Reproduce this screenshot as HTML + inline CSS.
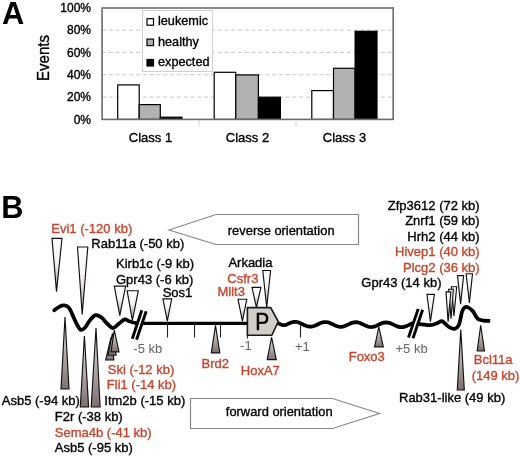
<!DOCTYPE html>
<html><head><meta charset="utf-8"><style>
html,body{margin:0;padding:0;background:#fff;}
svg{display:block;will-change:transform;filter:blur(0.35px);font-family:"Liberation Sans", sans-serif;}
</style></head><body>
<svg width="520" height="457" viewBox="0 0 520 457">
<defs>
<linearGradient id="gd" x1="0" y1="0" x2="0" y2="1"><stop offset="0" stop-color="#ffffff"/><stop offset="0.45" stop-color="#f5f2f2"/><stop offset="1" stop-color="#a49c9c"/></linearGradient>
<linearGradient id="gu" x1="0" y1="0" x2="0" y2="1"><stop offset="0" stop-color="#f2eaea"/><stop offset="1" stop-color="#7b6e6e"/></linearGradient>
</defs>
<rect width="520" height="457" fill="#fff"/>
<text x="1.9" y="23.7" font-size="30.8" fill="#000" stroke="#000" stroke-width="0" text-anchor="start" font-weight="bold">A</text>
<line x1="102" y1="97.1" x2="393" y2="97.1" stroke="#c8c8c8" stroke-width="1" stroke-dasharray="4,2.8"/>
<line x1="102" y1="74.8" x2="393" y2="74.8" stroke="#c8c8c8" stroke-width="1" stroke-dasharray="4,2.8"/>
<line x1="102" y1="52.4" x2="393" y2="52.4" stroke="#c8c8c8" stroke-width="1" stroke-dasharray="4,2.8"/>
<line x1="102" y1="30.1" x2="393" y2="30.1" stroke="#c8c8c8" stroke-width="1" stroke-dasharray="4,2.8"/>
<text x="91" y="123.7" font-size="12" fill="#000" stroke="#000" stroke-width="0.35" text-anchor="end" >0%</text>
<text x="91" y="101.38000000000001" font-size="12" fill="#000" stroke="#000" stroke-width="0.35" text-anchor="end" >20%</text>
<text x="91" y="79.06" font-size="12" fill="#000" stroke="#000" stroke-width="0.35" text-anchor="end" >40%</text>
<text x="91" y="56.739999999999995" font-size="12" fill="#000" stroke="#000" stroke-width="0.35" text-anchor="end" >60%</text>
<text x="91" y="34.42" font-size="12" fill="#000" stroke="#000" stroke-width="0.35" text-anchor="end" >80%</text>
<text x="91" y="12.099999999999998" font-size="12" fill="#000" stroke="#000" stroke-width="0.35" text-anchor="end" >100%</text>
<text x="0" y="0" font-size="16" fill="#000" stroke="#000" stroke-width="0.35" text-anchor="middle" transform="translate(48.7,58) rotate(-90) scale(0.94,1)">Events</text>
<rect x="117.7" y="84.9" width="21.5" height="34.5" fill="#fff" stroke="#000" stroke-width="1.2"/>
<rect x="139.2" y="104.6" width="21.1" height="14.8" fill="#b2b2b2" stroke="#000" stroke-width="1.2"/>
<rect x="160.3" y="117.2" width="21.7" height="2.2" fill="#000" stroke="#000" stroke-width="1.2"/>
<rect x="214.2" y="72.3" width="21.6" height="47.1" fill="#fff" stroke="#000" stroke-width="1.2"/>
<rect x="235.8" y="74.9" width="22.6" height="44.5" fill="#b2b2b2" stroke="#000" stroke-width="1.2"/>
<rect x="258.4" y="97.2" width="22.0" height="22.2" fill="#000" stroke="#000" stroke-width="1.2"/>
<rect x="311.8" y="90.6" width="21.7" height="28.8" fill="#fff" stroke="#000" stroke-width="1.2"/>
<rect x="333.5" y="68.3" width="21.6" height="51.1" fill="#b2b2b2" stroke="#000" stroke-width="1.2"/>
<rect x="355.1" y="31.3" width="21.9" height="88.1" fill="#000" stroke="#000" stroke-width="1.2"/>
<rect x="102.1" y="8" width="291.1" height="111.4" fill="none" stroke="#6c6c6c" stroke-width="1.6"/>
<line x1="199" y1="120" x2="199" y2="126.5" stroke="#d4d4d4" stroke-width="1"/>
<line x1="296" y1="120" x2="296" y2="126.5" stroke="#d4d4d4" stroke-width="1"/>
<rect x="142.5" y="10.5" width="70" height="61" fill="#fff" stroke="#d0d0d0" stroke-width="1"/>
<rect x="147" y="18.7" width="6.5" height="6.5" fill="#fff" stroke="#000" stroke-width="1.2"/>
<text x="158" y="25.1" font-size="12.7" fill="#000" stroke="#000" stroke-width="0.35" text-anchor="start" >leukemic</text>
<rect x="147" y="39.099999999999994" width="6.5" height="6.5" fill="#b0b0b0" stroke="#000" stroke-width="1.2"/>
<text x="158" y="45.5" font-size="12.7" fill="#000" stroke="#000" stroke-width="0.35" text-anchor="start" >healthy</text>
<rect x="147" y="59.5" width="6.5" height="6.5" fill="#000" stroke="#000" stroke-width="1.2"/>
<text x="158" y="65.9" font-size="12.7" fill="#000" stroke="#000" stroke-width="0.35" text-anchor="start" >expected</text>
<text x="150.5" y="142" font-size="13" fill="#000" stroke="#000" stroke-width="0.35" text-anchor="middle" >Class 1</text>
<text x="247.5" y="142" font-size="13" fill="#000" stroke="#000" stroke-width="0.35" text-anchor="middle" >Class 2</text>
<text x="344.5" y="142" font-size="13" fill="#000" stroke="#000" stroke-width="0.35" text-anchor="middle" >Class 3</text>
<text x="1.2" y="218.2" font-size="30.8" fill="#000" stroke="#000" stroke-width="0" text-anchor="start" font-weight="bold">B</text>
<polygon points="169,230 216,214.5 358.5,214.5 358.5,244.5 216,244.5" fill="#fff" stroke="#888" stroke-width="1.2"/>
<text x="281.2" y="234.6" font-size="12.9" fill="#000" stroke="#000" stroke-width="0.35" text-anchor="middle" >reverse orientation</text>
<polygon points="190.5,398.5 332.5,398.5 379.5,413.5 332.5,428.5 190.5,428.5" fill="#fff" stroke="#888" stroke-width="1.2"/>
<text x="279.2" y="416.4" font-size="12.9" fill="#000" stroke="#000" stroke-width="0.35" text-anchor="middle" >forward orientation</text>
<path d="M54.25,310.30 C55.12,309.68 57.83,307.42 59.50,306.60 C61.17,305.78 62.77,305.25 64.30,305.40 C65.83,305.55 67.42,306.13 68.70,307.50 C69.98,308.87 70.80,311.13 72.00,313.60 C73.20,316.07 74.50,319.63 75.90,322.30 C77.30,324.97 78.93,328.65 80.40,329.60 C81.87,330.55 83.22,329.42 84.70,328.00 C86.18,326.58 87.72,323.13 89.30,321.10 C90.88,319.07 93.00,316.80 94.20,315.80 C95.40,314.80 95.28,314.82 96.50,315.10 C97.72,315.38 99.70,316.06 101.50,317.50 C103.30,318.94 105.37,321.98 107.30,323.75 C109.23,325.52 111.18,328.10 113.10,328.10 C115.02,328.10 116.88,325.20 118.80,323.75 C120.72,322.30 122.98,319.88 124.60,319.40 C126.22,318.92 127.22,320.42 128.50,320.90 C129.78,321.38 130.87,321.93 132.30,322.30 C133.73,322.67 135.48,322.92 137.10,323.10 C138.72,323.28 141.18,323.35 142.00,323.40" fill="none" stroke="#000" stroke-width="3.75" stroke-linecap="round" stroke-linejoin="round"/>
<line x1="141" y1="323.4" x2="250" y2="323.4" stroke="#000" stroke-width="3.3"/>
<polyline points="276.0,322.60 279.0,323.80 283.0,325.20 286.0,324.83 288.0,323.86 290.0,322.94 292.0,322.23 294.0,321.85 296.0,321.86 298.0,322.26 300.0,323.00 302.0,323.95 304.0,324.94 306.0,325.82 308.0,326.43 310.0,326.69 312.0,326.54 314.0,326.01 316.0,325.20 318.0,324.24 320.0,323.30 322.0,322.53 324.0,322.07 326.0,322.00 328.0,322.34 330.0,323.02 332.0,323.93 334.0,324.93 336.0,325.84 338.0,326.52 340.0,326.85 342.0,326.78 344.0,326.33 346.0,325.56 348.0,324.62 350.0,323.66 352.0,322.84 354.0,322.32 356.0,322.17 358.0,322.42 360.0,323.04 362.0,323.92 364.0,324.91 366.0,325.85 368.0,326.59 370.0,327.00 372.0,327.01 374.0,326.63 376.0,325.91 378.0,324.99 380.0,324.03 382.0,323.17 384.0,322.58 386.0,322.35 388.0,322.52 390.0,323.07 392.0,323.91 394.0,324.89 396.0,325.86 398.0,326.65 400.0,327.13 402.0,327.22 404.0,326.92 406.0,326.26 408.0,325.37 410.0,324.40 412.0,323.51 414.0,322.85" fill="none" stroke="#000" stroke-width="3.75" stroke-linejoin="round"/>
<path d="M414.00,322.40 C414.75,322.63 416.75,323.42 418.50,323.80 C420.25,324.18 422.48,324.48 424.50,324.70 C426.52,324.92 428.58,325.32 430.60,325.10 C432.62,324.88 434.73,324.05 436.60,323.40 C438.47,322.75 440.35,321.13 441.80,321.20 C443.25,321.27 444.00,322.78 445.30,323.80 C446.60,324.82 448.05,326.47 449.60,327.30 C451.15,328.13 453.10,329.10 454.60,328.80 C456.10,328.50 457.60,327.22 458.60,325.50 C459.60,323.78 460.03,320.78 460.60,318.50 C461.17,316.22 461.33,313.62 462.00,311.80 C462.67,309.98 463.58,308.33 464.60,307.60 C465.62,306.87 466.72,306.78 468.10,307.40 C469.48,308.02 471.62,309.85 472.90,311.30 C474.18,312.75 474.83,314.75 475.80,316.10 C476.77,317.45 477.42,318.65 478.70,319.40 C479.98,320.15 481.58,320.37 483.50,320.60 C485.42,320.83 489.08,320.77 490.20,320.80" fill="none" stroke="#000" stroke-width="3.75" stroke-linejoin="round"/>
<polygon points="132.3,338.8 141.8,310.3 146.2,311.2 136.5,339.8" fill="#fff"/>
<line x1="132.3" y1="338.8" x2="141.8" y2="310.3" stroke="#000" stroke-width="2.9"/>
<line x1="136.5" y1="339.8" x2="146.2" y2="311.2" stroke="#000" stroke-width="2.9"/>
<polygon points="408.5,337.5 418.2,308.9 422.6,309.7 413,338.3" fill="#fff"/>
<line x1="408.5" y1="337.5" x2="418.2" y2="308.9" stroke="#000" stroke-width="2.9"/>
<line x1="413" y1="338.3" x2="422.6" y2="309.7" stroke="#000" stroke-width="2.9"/>
<line x1="167.5" y1="323" x2="167.5" y2="337.5" stroke="#222" stroke-width="1.1"/>
<line x1="194.5" y1="323" x2="194.5" y2="337.5" stroke="#222" stroke-width="1.1"/>
<line x1="220.5" y1="323" x2="220.5" y2="337.5" stroke="#222" stroke-width="1.1"/>
<line x1="247.5" y1="323" x2="247.5" y2="338.5" stroke="#222" stroke-width="1.1"/>
<line x1="300.5" y1="323" x2="300.5" y2="337.5" stroke="#222" stroke-width="1.1"/>
<polygon points="247.4,307.6 270.6,307.6 278.3,321.6 271.8,335.3 247.4,335.3" fill="#d1cdc9" stroke="#1a1a1a" stroke-width="1.6" stroke-linejoin="miter"/>
<text x="0" y="0" font-size="21" fill="#000" stroke="#000" stroke-width="0.45" text-anchor="middle" transform="translate(262.2,329.8) scale(1,1.13)">P</text>
<polygon points="52,238.3 62,238.3 56.5,291.6" fill="url(#gd)" stroke="#111" stroke-width="1.15"/>
<polygon points="77.5,247 87.8,247 82.2,314.5" fill="url(#gd)" stroke="#111" stroke-width="1.15"/>
<polygon points="114.3,286.1 125.6,286.1 119.8,315.7" fill="url(#gd)" stroke="#111" stroke-width="1.15"/>
<polygon points="127.1,290.7 138.3,290.7 132.4,320.3" fill="url(#gd)" stroke="#111" stroke-width="1.15"/>
<polygon points="162.9,298.8 171.7,298.8 167.3,321.2" fill="url(#gd)" stroke="#111" stroke-width="1.15"/>
<polygon points="238,299.2 246.8,299.2 242.4,321.2" fill="url(#gd)" stroke="#111" stroke-width="1.15"/>
<polygon points="252,287.3 260.9,287.3 256.4,307.5" fill="url(#gd)" stroke="#111" stroke-width="1.15"/>
<polygon points="262.8,270.5 270.6,270.5 266.7,307.5" fill="url(#gd)" stroke="#111" stroke-width="1.15"/>
<polygon points="427,294.4 434.4,294.4 430.4,321.7" fill="url(#gd)" stroke="#111" stroke-width="1.15"/>
<polygon points="466.1,273.7 472.5,273.7 469.4,303" fill="url(#gd)" stroke="#111" stroke-width="1.15"/>
<polygon points="457.5,275.6 463.6,275.6 460.6,304.2" fill="url(#gd)" stroke="#111" stroke-width="1.15"/>
<polygon points="451.4,286.7 456.7,286.7 453.9,316" fill="url(#gd)" stroke="#111" stroke-width="1.15"/>
<polygon points="448.6,289.2 453.4,289.2 451,318.8" fill="url(#gd)" stroke="#111" stroke-width="1.15"/>
<polygon points="446,291.8 450.9,291.8 448.1,321.7" fill="url(#gd)" stroke="#111" stroke-width="1.15"/>
<polygon points="61,389 69,389 65,317" fill="url(#gu)" stroke="#111" stroke-width="1.15"/>
<polygon points="80.3,407 88.6,407 84.4,336" fill="url(#gu)" stroke="#111" stroke-width="1.15"/>
<polygon points="91.2,407 100.1,407 96,328" fill="url(#gu)" stroke="#111" stroke-width="1.15"/>
<polygon points="105.7,360 113.9,360 111,337.4" fill="url(#gu)" stroke="#111" stroke-width="1.15"/>
<polygon points="108.1,355.2 116.1,355.2 112.4,333.3" fill="url(#gu)" stroke="#111" stroke-width="1.15"/>
<polygon points="111,351.8 119,351.8 114.3,330.2" fill="url(#gu)" stroke="#111" stroke-width="1.15"/>
<polygon points="211.3,352.9 219.8,352.9 215.5,325.4" fill="url(#gu)" stroke="#111" stroke-width="1.15"/>
<polygon points="267.2,359.6 276.3,359.6 271.6,337.4" fill="url(#gu)" stroke="#111" stroke-width="1.15"/>
<polygon points="374.6,346.8 383.3,346.8 378.8,327" fill="url(#gu)" stroke="#111" stroke-width="1.15"/>
<polygon points="457.3,390 464.3,390 460.8,329.6" fill="url(#gu)" stroke="#111" stroke-width="1.15"/>
<polygon points="477.2,351 484.5,351 480.7,325.4" fill="url(#gu)" stroke="#111" stroke-width="1.15"/>
<text x="51.3" y="233.4" font-size="13" fill="#c6452f" stroke="#c6452f" stroke-width="0.35" text-anchor="start" >Evi1 (-120 kb)</text>
<text x="91.3" y="247.5" font-size="13" fill="#000" stroke="#000" stroke-width="0.35" text-anchor="start" >Rab11a (-50 kb)</text>
<text x="116.0" y="267.5" font-size="13" fill="#000" stroke="#000" stroke-width="0.35" text-anchor="start" >Kirb1c (-9 kb)</text>
<text x="116.0" y="283.5" font-size="13" fill="#000" stroke="#000" stroke-width="0.35" text-anchor="start" >Gpr43 (-6 kb)</text>
<text x="162.7" y="297.3" font-size="13" fill="#000" stroke="#000" stroke-width="0.35" text-anchor="start" >Sos1</text>
<text x="228.4" y="267.4" font-size="13" fill="#000" stroke="#000" stroke-width="0.35" text-anchor="start" >Arkadia</text>
<text x="227.3" y="283.2" font-size="13" fill="#c6452f" stroke="#c6452f" stroke-width="0.35" text-anchor="start" >Csfr3</text>
<text x="217.5" y="296.1" font-size="13" fill="#c6452f" stroke="#c6452f" stroke-width="0.35" text-anchor="start" >Mllt3</text>
<text x="479.6" y="209.8" font-size="13" fill="#000" stroke="#000" stroke-width="0.35" text-anchor="end" >Zfp3612 (72 kb)</text>
<text x="479.6" y="225.3" font-size="13" fill="#000" stroke="#000" stroke-width="0.35" text-anchor="end" >Znrf1 (59 kb)</text>
<text x="479.6" y="240.6" font-size="13" fill="#000" stroke="#000" stroke-width="0.35" text-anchor="end" >Hrh2 (44 kb)</text>
<text x="479.6" y="256" font-size="13" fill="#c6452f" stroke="#c6452f" stroke-width="0.35" text-anchor="end" >Hivep1 (40 kb)</text>
<text x="479.6" y="271.6" font-size="13" fill="#c6452f" stroke="#c6452f" stroke-width="0.35" text-anchor="end" >Plcg2 (36 kb)</text>
<text x="361.3" y="287.3" font-size="13" fill="#000" stroke="#000" stroke-width="0.35" text-anchor="start" >Gpr43 (14 kb)</text>
<text x="133.3" y="352.8" font-size="13" fill="#686868" stroke="#686868" stroke-width="0.05" text-anchor="start" >-5 kb</text>
<text x="107.8" y="374" font-size="13" fill="#c6452f" stroke="#c6452f" stroke-width="0.35" text-anchor="start" >Ski (-12 kb)</text>
<text x="106.8" y="389" font-size="13" fill="#c6452f" stroke="#c6452f" stroke-width="0.35" text-anchor="start" >Fli1 (-14 kb)</text>
<text x="1.8" y="405" font-size="13" fill="#000" stroke="#000" stroke-width="0.35" text-anchor="start" >Asb5 (-94 kb)</text>
<text x="104.3" y="404.8" font-size="13" fill="#000" stroke="#000" stroke-width="0.35" text-anchor="start" >Itm2b (-15 kb)</text>
<text x="54.8" y="421" font-size="13" fill="#000" stroke="#000" stroke-width="0.35" text-anchor="start" >F2r (-38 kb)</text>
<text x="54.8" y="436.8" font-size="13" fill="#c6452f" stroke="#c6452f" stroke-width="0.35" text-anchor="start" >Sema4b (-41 kb)</text>
<text x="54.8" y="452.2" font-size="13" fill="#000" stroke="#000" stroke-width="0.35" text-anchor="start" >Asb5 (-95 kb)</text>
<text x="201.6" y="367.7" font-size="13" fill="#c6452f" stroke="#c6452f" stroke-width="0.35" text-anchor="start" >Brd2</text>
<text x="240.1" y="350" font-size="13" fill="#686868" stroke="#686868" stroke-width="0.05" text-anchor="start" >-1</text>
<text x="240.8" y="374.8" font-size="13" fill="#c6452f" stroke="#c6452f" stroke-width="0.35" text-anchor="start" >HoxA7</text>
<text x="295" y="350.5" font-size="13" fill="#686868" stroke="#686868" stroke-width="0.05" text-anchor="start" >+1</text>
<text x="348.7" y="360.5" font-size="13" fill="#c6452f" stroke="#c6452f" stroke-width="0.35" text-anchor="start" >Foxo3</text>
<text x="395.5" y="352.6" font-size="13" fill="#686868" stroke="#686868" stroke-width="0.05" text-anchor="start" >+5 kb</text>
<text x="473.8" y="364.4" font-size="13" fill="#c6452f" stroke="#c6452f" stroke-width="0.35" text-anchor="start" >Bcl11a</text>
<text x="471.7" y="379.5" font-size="13" fill="#c6452f" stroke="#c6452f" stroke-width="0.35" text-anchor="start" >(149 kb)</text>
<text x="399" y="402.3" font-size="13" fill="#000" stroke="#000" stroke-width="0.35" text-anchor="start" >Rab31-like (49 kb)</text>
</svg>
</body></html>
